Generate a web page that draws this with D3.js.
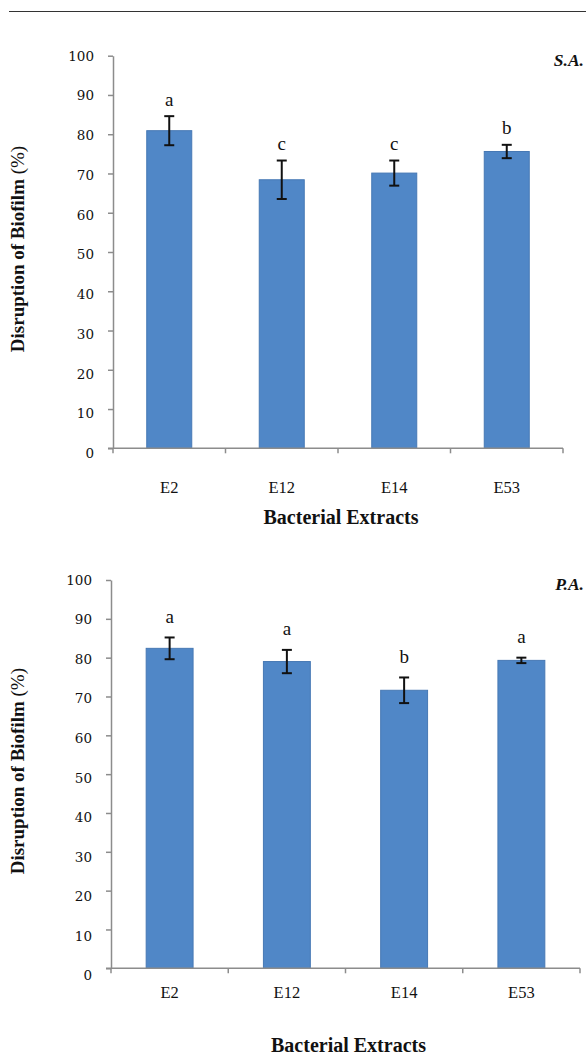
<!DOCTYPE html>
<html>
<head>
<meta charset="utf-8">
<script src="https://cdn.jsdelivr.net/npm/d3@7"></script>
<style>
  html, body { margin: 0; padding: 0; background: #fff; }
  svg { display: block; }
  text { font-family: "Liberation Serif", "DejaVu Serif", serif; fill: #111; }
  text.ytl { font-family: "DejaVu Serif", serif; }
</style>
</head>
<body>
<svg id="chart" width="586" height="1056"></svg>
<script>
// Bacterial extracts tested against each organism
const extracts = ["E2", "E12", "E14", "E53"];

// Staphylococcus aureus: mean biofilm disruption (%), error (±) and significance group
const saMeans = [80.9, 68.4, 70.1, 75.6];
const saErrors = [3.7, 4.9, 3.2, 1.7];
const saGroups = ["a", "c", "c", "b"];

// Pseudomonas aeruginosa
const paMeans = [82.4, 79.0, 71.6, 79.3];
const paErrors = [2.8, 3.0, 3.3, 0.7];
const paGroups = ["a", "a", "b", "a"];

const yTicks = [0, 10, 20, 30, 40, 50, 60, 70, 80, 90, 100];

const svg = d3.select("#chart");

// rule across the top of the figure
svg.append("line")
  .attr("x1", 9).attr("x2", 586)
  .attr("y1", 11.5).attr("y2", 11.5)
  .attr("stroke", "#333").attr("stroke-width", 1.2);

function panel(cfg) {
  const g = svg.append("g");
  const x = d3.scaleBand().domain(extracts)
    .range([cfg.left, cfg.right]).paddingInner(0.6).paddingOuter(0.3);
  const y = d3.scaleLinear().domain([0, 100]).range([cfg.bottom, cfg.top]);
  // tick labels sit slightly lower towards the bottom of the axis
  const yLab = d3.scaleLinear().domain([0, 100]).range([cfg.bottom + cfg.labelDrift, cfg.top]);

  // bars
  g.selectAll("rect.bar").data(cfg.means).join("rect")
    .attr("class", "bar")
    .attr("x", (d, i) => x(extracts[i]))
    .attr("width", x.bandwidth())
    .attr("y", d => y(d))
    .attr("height", d => y(0) - y(d))
    .attr("fill", "#5087c7")
    .attr("stroke", "#4678b4")
    .attr("stroke-width", 1);

  // error bars
  const cap = 5;
  const eb = g.selectAll("g.err").data(cfg.means).join("g").attr("class", "err")
    .attr("stroke", "#111").attr("stroke-width", 2);
  eb.append("line")
    .attr("x1", (d, i) => x(extracts[i]) + x.bandwidth() / 2)
    .attr("x2", (d, i) => x(extracts[i]) + x.bandwidth() / 2)
    .attr("y1", (d, i) => y(d + cfg.errors[i]))
    .attr("y2", (d, i) => y(d - cfg.errors[i]));
  [1, -1].forEach(s => {
    eb.append("line")
      .attr("x1", (d, i) => x(extracts[i]) + x.bandwidth() / 2 - cap)
      .attr("x2", (d, i) => x(extracts[i]) + x.bandwidth() / 2 + cap)
      .attr("y1", (d, i) => y(d + s * cfg.errors[i]))
      .attr("y2", (d, i) => y(d + s * cfg.errors[i]));
  });

  // significance letters
  g.selectAll("text.grp").data(cfg.groups).join("text")
    .attr("class", "grp")
    .attr("x", (d, i) => x(extracts[i]) + x.bandwidth() / 2)
    .attr("y", (d, i) => y(cfg.means[i] + cfg.errors[i]) - cfg.letterGap)
    .attr("text-anchor", "middle")
    .attr("font-size", 19)
    .text(d => d);

  // y axis
  const ya = g.append("g")
    .attr("transform", `translate(${cfg.left},0)`)
    .call(d3.axisLeft(y).tickValues(yTicks).tickSize(5).tickSizeOuter(0));
  ya.select(".domain").attr("stroke", "#8c8c8c").attr("stroke-width", 1.5);
  ya.selectAll(".tick line").attr("stroke", "#8c8c8c").attr("stroke-width", 1.5);
  ya.selectAll(".tick text").remove();
  g.selectAll("text.ytl").data(yTicks).join("text").attr("class", "ytl")
    .attr("x", cfg.left - 19)
    .attr("y", d => yLab(d))
    .attr("dy", "0.36em")
    .attr("text-anchor", "end")
    .attr("font-size", 13.5)
    .text(d => d);

  // x axis with ticks on the category boundaries
  const xa = g.append("g").attr("transform", `translate(0,${cfg.bottom})`);
  xa.append("line")
    .attr("x1", cfg.left - 5).attr("x2", cfg.right)
    .attr("stroke", "#8c8c8c").attr("stroke-width", 1.5);
  const bounds = d3.range(extracts.length + 1).map(i => cfg.left + i * (cfg.right - cfg.left) / extracts.length);
  xa.selectAll("line.tk").data(bounds).join("line").attr("class", "tk")
    .attr("x1", d => d).attr("x2", d => d)
    .attr("y1", 0).attr("y2", 5)
    .attr("stroke", "#8c8c8c").attr("stroke-width", 1.5);
  xa.selectAll("text.cat").data(extracts).join("text").attr("class", "cat")
    .attr("x", d => x(d) + x.bandwidth() / 2)
    .attr("y", cfg.catY - cfg.bottom)
    .attr("dy", "0.35em")
    .attr("text-anchor", "middle")
    .attr("font-size", 16.5)
    .text(d => d);

  // axis titles
  g.append("text")
    .attr("x", (cfg.left + cfg.right) / 2 + 3)
    .attr("y", cfg.xTitleY)
    .attr("dy", "0.35em")
    .attr("text-anchor", "middle")
    .attr("font-size", 20).attr("font-weight", "bold")
    .text("Bacterial Extracts");

  const yt = g.append("text")
    .attr("transform", `translate(17,${(cfg.top + cfg.bottom) / 2 - 3}) rotate(-90)`)
    .attr("dy", "0.35em")
    .attr("text-anchor", "middle")
    .attr("font-size", 19);
  yt.append("tspan").attr("font-weight", "bold").text("Disruption of Biofilm ");
  yt.append("tspan").text("(%)");

  // organism label
  g.append("text")
    .attr("x", 584).attr("y", cfg.top + 4)
    .attr("dy", "0.35em")
    .attr("text-anchor", "end")
    .attr("font-size", 17.5).attr("font-weight", "bold").attr("font-style", "italic")
    .text(cfg.label);
}

panel({
  means: saMeans, errors: saErrors, groups: saGroups, label: "S.A.",
  left: 113, right: 563, top: 55.7, bottom: 448.3, labelDrift: 5,
  catY: 487, xTitleY: 517, letterGap: 10.5
});

panel({
  means: paMeans, errors: paErrors, groups: paGroups, label: "P.A.",
  left: 111, right: 580, top: 580, bottom: 968.3, labelDrift: 7,
  catY: 992, xTitleY: 1045, letterGap: 14.5
});
</script>
</body>
</html>
